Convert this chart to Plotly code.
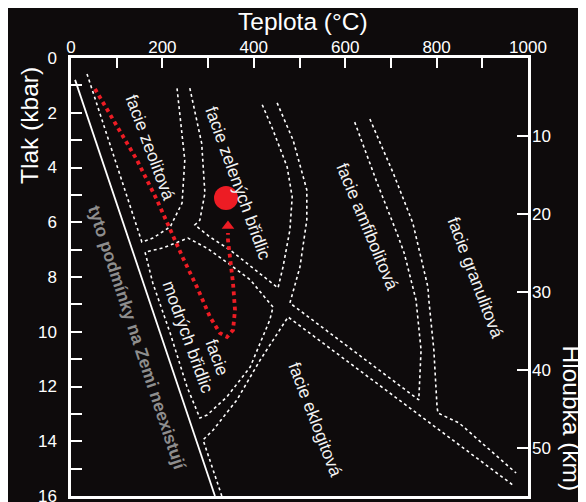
import plotly.graph_objects as go

# ---------------- data (temperature in °C, pressure in kbar) ----------------
KM_PER_KBAR = 3.51
T_RANGE = [0, 1000]
P_RANGE = [0, 16]

T_TICKS = [0, 100, 200, 300, 400, 500, 600, 700, 800, 900, 1000]
T_TICKTEXT = ["0", "", "200", "", "400", "", "600", "", "800", "", "1000"]
P_TICKS = list(range(0, 17))
P_TICKTEXT = [str(v) if v % 2 == 0 else "" for v in P_TICKS]
DEPTH_TICKS = [10, 20, 30, 40, 50]

# solid line: conditions that do not exist on Earth
EARTH_LIMIT_T = [9, 315]
EARTH_LIMIT_P = [0.8, 16.0]

# zeolite facies (U shaped boundary)
ZEOLITE_T = [35, 155, 179, 217, 243, 249, 232]
ZEOLITE_P = [0.58, 6.72, 6.58, 6.17, 5.30, 3.73, 1.10]

# greenschist facies (left, bottom, right boundary)
GREENSCHIST_T = [260, 286, 293, 282, 271, 304, 348, 453, 464, 479, 484, 473, 442, 416]
GREENSCHIST_P = [1.10, 3.12, 4.94, 5.92, 6.10, 6.54, 7.01, 8.40, 7.63, 6.28, 5.08, 3.98, 2.63, 1.61]

# amphibolite facies (left boundary, lower boundary, right boundary)
AMPHIBOLITE_T = [451, 486, 516, 516, 501, 479, 761, 766, 755, 729, 713, 670, 619]
AMPHIBOLITE_P = [1.64, 3.00, 4.82, 5.92, 7.63, 8.95, 12.49, 10.67, 8.84, 7.12, 6.39, 4.57, 2.26]

# granulite facies boundary
GRANULITE_T = [654, 705, 748, 781, 783, 794, 801, 803, 849, 974]
GRANULITE_P = [2.23, 4.20, 6.03, 8.37, 8.84, 10.67, 12.75, 12.97, 13.33, 15.16]

# blueschist facies (closed boundary)
BLUESCHIST_T = [442, 392, 348, 298, 256, 201, 162, 179, 217, 254, 282, 298, 341, 392, 435, 442]
BLUESCHIST_P = [9.10, 8.10, 7.55, 6.95, 6.58, 6.94, 7.09, 8.22, 10.05, 12.02, 13.15, 13.04, 12.38, 11.29, 9.57, 9.10]

# eclogite facies boundary
ECLOGITE_T = [330, 289, 311, 363, 414, 475, 967]
ECLOGITE_P = [16.0, 13.95, 13.59, 12.49, 11.03, 9.46, 15.6]

# P-T path (red)
PATH_T = [52.5, 91.9, 144.4, 188.2, 216.6, 245.1, 275.7, 304.2, 326.0, 341.4,
          354.5, 358.9, 354.5, 347.9, 343.5, 343.5]
PATH_P = [1.13, 2.26, 3.73, 5.19, 6.28, 7.31, 8.37, 9.46, 10.05, 10.19,
          9.94, 9.21, 8.22, 7.38, 6.65, 6.39]
ARROW_T = [343.5]
ARROW_P = [6.14]
PEAK_T = [339.2]
PEAK_P = [5.11]

LABELS = ["facie zeolitová", "facie zelených břidlic", "facie amfibolitová",
          "facie granulitová", "facie eklogitová", "modrých břidlic", "facie"]
LABEL_T = [173, 365, 648, 886, 534, 256, 319.5]
LABEL_P = [3.25, 4.58, 6.14, 8.02, 13.19, 10.19, 10.92]
LABEL_ANGLE = [69.5, 70, 67.5, 69.2, 69, 70, 70]

NOTE_TEXT = "tyto podmínky na Zemi neexistují"
NOTE_T = [145.5]
NOTE_P = [10.21]

# ---------------- styling ----------------
BG = "#0e0b0c"
RED = "#ed1c24"
WHITE = "#ffffff"
FONT = "Liberation Sans, Arial, sans-serif"
DASH = "3px,3px"

# the page body has an 8px margin; size the figure so it fills the window
BODY = 8
W, H = 586 - BODY, 502 - BODY
ML, MR, MT, MB = 71 - BODY, 58, 58 - BODY, 6
PW, PH = W - ML - MR, H - MT - MB

fig = go.Figure()

fig.add_trace(go.Scatter(x=EARTH_LIMIT_T, y=EARTH_LIMIT_P, mode="lines",
                         line=dict(color=WHITE, width=1.8), hoverinfo="skip"))

for tx, py in [(ZEOLITE_T, ZEOLITE_P), (GREENSCHIST_T, GREENSCHIST_P),
               (AMPHIBOLITE_T, AMPHIBOLITE_P), (GRANULITE_T, GRANULITE_P),
               (BLUESCHIST_T, BLUESCHIST_P), (ECLOGITE_T, ECLOGITE_P)]:
    fig.add_trace(go.Scatter(x=tx, y=py, mode="lines",
                             line=dict(color=WHITE, width=1.6, dash=DASH),
                             hoverinfo="skip"))

fig.add_trace(go.Scatter(x=PATH_T, y=PATH_P, mode="lines",
                         line=dict(color=RED, width=3.8, dash="dot"),
                         hoverinfo="skip"))
fig.add_trace(go.Scatter(x=ARROW_T, y=ARROW_P, mode="markers",
                         marker=dict(symbol="triangle-up", size=11, color=RED),
                         hoverinfo="skip"))
fig.add_trace(go.Scatter(x=PEAK_T, y=PEAK_P, mode="markers",
                         marker=dict(symbol="circle", size=24, color=RED),
                         hoverinfo="skip"))
# carrier for the depth axis
fig.add_trace(go.Scatter(x=[None], y=[None], yaxis="y2", mode="markers",
                         hoverinfo="skip"))

annotations = []
for txt, tx, py, ang in zip(LABELS, LABEL_T, LABEL_P, LABEL_ANGLE):
    annotations.append(dict(x=tx, y=py, xref="x", yref="y", text=txt,
                            textangle=ang, showarrow=False,
                            xanchor="center", yanchor="middle",
                            font=dict(size=17.5, color="#f2f2f2", family=FONT)))
annotations.append(dict(x=NOTE_T[0], y=NOTE_P[0], xref="x", yref="y",
                        text="<b>" + NOTE_TEXT + "</b>", textangle=71.7,
                        showarrow=False, xanchor="center", yanchor="middle",
                        font=dict(size=17.5, color="#8e8e8e", family=FONT)))


def page_to_paper(px, py):
    fx, fy = px - BODY, py - BODY
    return (fx - ML) / PW, 1 - (fy - MT) / PH


for txt, px, py, ang in [("Teplota (°C)", 303, 21.5, 0),
                         ("Tlak (kbar)", 29, 126, -90),
                         ("Hloubka (km)", 571.5, 418, 90)]:
    ax, ay = page_to_paper(px, py)
    annotations.append(dict(x=ax, y=ay, xref="paper", yref="paper", text=txt,
                            textangle=ang, showarrow=False,
                            xanchor="center", yanchor="middle",
                            font=dict(size=24.5, color=WHITE, family=FONT)))

axis_common = dict(showgrid=False, zeroline=False, tickcolor=WHITE,
                   ticklabeloverflow="allow",
                   tickfont=dict(size=17, color=WHITE, family=FONT))

fig.update_layout(
    width=W, height=H, autosize=False,
    margin=dict(l=ML, r=MR, t=MT, b=MB, pad=0, autoexpand=False),
    paper_bgcolor=BG, plot_bgcolor=BG,
    showlegend=False,
    font=dict(family=FONT, color=WHITE),
    xaxis=dict(range=T_RANGE, side="top", tickmode="array", tickvals=T_TICKS,
               ticktext=T_TICKTEXT, ticks="inside", ticklen=10, tickwidth=2,
               showline=True, linecolor=WHITE, linewidth=2.5, mirror=True,
               ticklabelstandoff=-5, **axis_common),
    yaxis=dict(range=[P_RANGE[1], P_RANGE[0]], tickmode="array", tickvals=P_TICKS,
               ticktext=P_TICKTEXT, ticks="inside", ticklen=11, tickwidth=2,
               showline=True, linecolor=WHITE, linewidth=2.5, mirror=True,
               ticklabelstandoff=8, **axis_common),
    yaxis2=dict(range=[P_RANGE[1] * KM_PER_KBAR, P_RANGE[0] * KM_PER_KBAR],
                overlaying="y", side="right", tickmode="array",
                tickvals=DEPTH_TICKS, ticks="inside", ticklen=11, tickwidth=2,
                showline=False, ticklabelstandoff=3, **axis_common),
    annotations=annotations,
)

fig.write_html("out.html")
